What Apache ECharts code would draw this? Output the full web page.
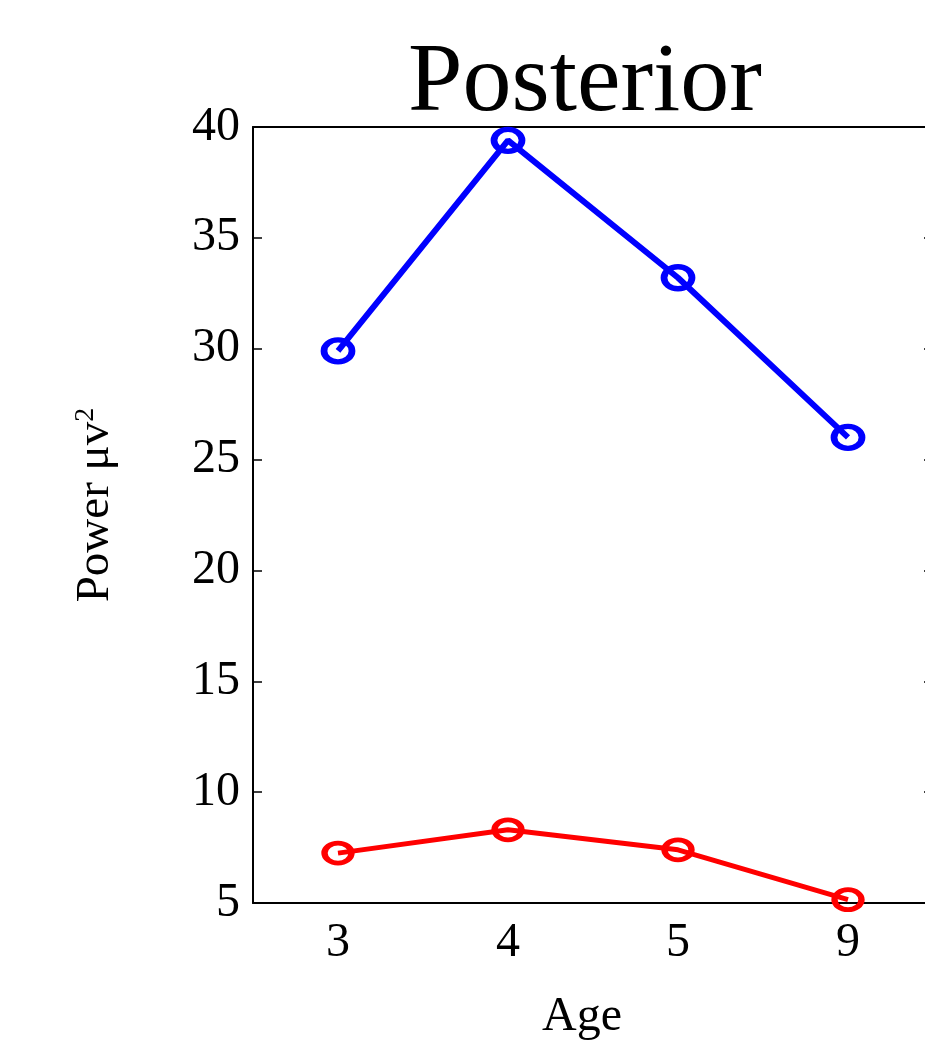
<!DOCTYPE html>
<html>
<head>
    <meta http-equiv="Content-Type" content="text/html; charset=UTF-8" />
    <script src="https://cdn.jsdelivr.net/npm/echarts@6/dist/echarts.min.js"></script>
    <style>
        html, body { margin: 0; padding: 0; background: #fff; overflow: hidden; }
        #chart { width: 925px; height: 1040px; }
    </style>
</head>
<body>
    <div id="chart"></div>
    <script type="text/javascript">
        // data
        var ages = ['3', '4', '5', '9'];
        var blueValues = [29.9, 39.4, 33.2, 26.0];
        var redValues = [7.25, 8.3, 7.4, 5.15];
        var yTicks = [5, 10, 15, 20, 25, 30, 35, 40];

        var serif = '"Liberation Serif", "Times New Roman", serif';
        var chart = echarts.init(document.getElementById('chart'));

        var option = {
            backgroundColor: '#fff',
            animation: false,
            title: {
                text: 'Posterior',
                left: 580,
                textAlign: 'center',
                top: 30,
                textStyle: { fontFamily: serif, fontSize: 98, fontWeight: 'normal', color: '#000' }
            },
            // plot box runs a little past the right edge of the picture
            grid: { left: 253, top: 127, width: 680, height: 776, containLabel: false, outerBoundsMode: 'none' },
            xAxis: [{
                type: 'category',
                data: ages,
                boundaryGap: true,
                position: 'bottom',
                name: 'Age',
                nameLocation: 'middle',
                nameGap: 90,
                nameTextStyle: { fontFamily: serif, fontSize: 48, color: '#000', padding: [0, 22, 0, 0] },
                axisLine: { lineStyle: { color: '#000', width: 2 } },
                axisTick: { inside: true, alignWithLabel: true, length: 9, lineStyle: { color: '#000', width: 1.5 } },
                axisLabel: { fontFamily: serif, fontSize: 48, color: '#000', margin: 16 },
                splitLine: { show: false }
            }, {
                type: 'category',
                data: ages,
                boundaryGap: true,
                position: 'top',
                axisLine: { lineStyle: { color: '#000', width: 2 } },
                axisTick: { inside: true, alignWithLabel: true, length: 9, lineStyle: { color: '#000', width: 1.5 } },
                axisLabel: { show: false },
                splitLine: { show: false }
            }],
            yAxis: [{
                type: 'value',
                min: yTicks[0],
                max: yTicks[yTicks.length - 1],
                interval: 5,
                position: 'left',
                name: 'Power μv{sup|2}',
                nameLocation: 'middle',
                nameRotate: 90,
                nameGap: 133,
                nameTextStyle: {
                    fontFamily: serif, fontSize: 47, color: '#000', padding: [0, 0, 0, 20],
                    rich: { sup: { fontFamily: serif, fontSize: 28, color: '#000', verticalAlign: 'top', padding: [0, 0, 20, 0] } }
                },
                axisLine: { show: true, lineStyle: { color: '#000', width: 2 } },
                axisTick: { show: true, inside: true, length: 9, lineStyle: { color: '#000', width: 1.5 } },
                axisLabel: { fontFamily: serif, fontSize: 48, color: '#000', margin: 13 },
                splitLine: { show: false }
            }, {
                type: 'value',
                min: yTicks[0],
                max: yTicks[yTicks.length - 1],
                interval: 5,
                position: 'right',
                axisLine: { show: true, lineStyle: { color: '#000', width: 2 } },
                axisTick: { show: true, inside: true, length: 9, lineStyle: { color: '#000', width: 1.5 } },
                axisLabel: { show: false },
                splitLine: { show: false }
            }],
            series: [{
                name: 'blue',
                type: 'line',
                data: blueValues,
                symbol: 'circle',
                symbolSize: [28, 22],
                lineStyle: { color: '#0000ff', width: 6 },
                itemStyle: { color: 'rgba(0,0,0,0)', borderColor: '#0000ff', borderWidth: 6 },
                z: 5
            }, {
                name: 'red',
                type: 'line',
                data: redValues,
                symbol: 'circle',
                symbolSize: [27, 20],
                lineStyle: { color: '#ff0000', width: 5 },
                itemStyle: { color: 'rgba(0,0,0,0)', borderColor: '#ff0000', borderWidth: 5.5 },
                z: 5
            }]
        };

        chart.setOption(option);
    </script>
</body>
</html>
